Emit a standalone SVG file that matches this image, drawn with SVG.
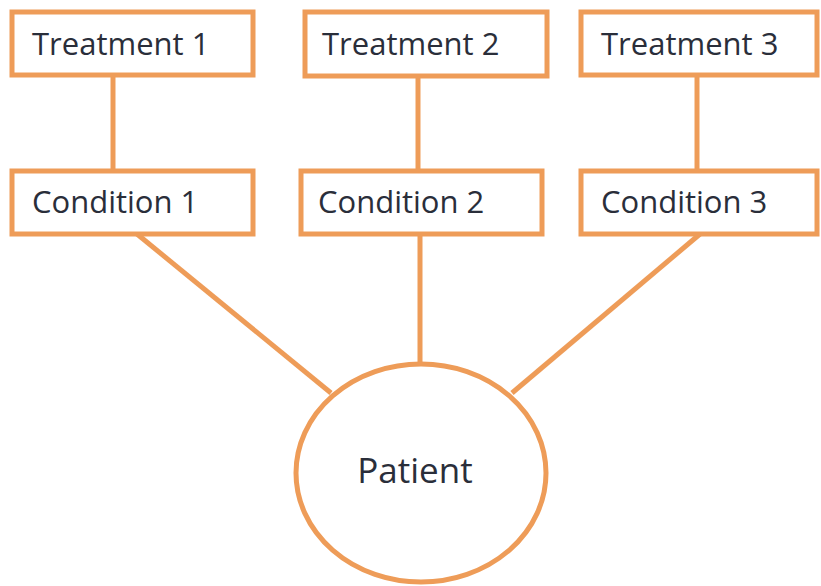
<svg xmlns="http://www.w3.org/2000/svg" width="821" height="586" viewBox="0 0 821 586">
<style>
.box{fill:#fff;stroke:#EE9C58;stroke-width:5}
.ln{stroke:#EE9C58;stroke-width:5;fill:none}
.t{font-family:"Open Sans","Liberation Sans",sans-serif;font-size:31px;fill:#2a2e3a}
.p{font-family:"Open Sans","Liberation Sans",sans-serif;font-size:35px;fill:#2a2e3a}
</style>
<rect width="821" height="586" fill="#fff"/>
<g id="connectors">
<line class="ln" x1="113" y1="76" x2="113" y2="170"/>
<line class="ln" x1="418" y1="77" x2="418" y2="170"/>
<line class="ln" x1="697" y1="76" x2="697" y2="170"/>
<line class="ln" x1="137" y1="234" x2="331" y2="393"/>
<line class="ln" x1="420" y1="234" x2="420" y2="363"/>
<line class="ln" x1="700" y1="234" x2="512" y2="393"/>
</g>
<g id="treatment1"><rect class="box" x="12" y="12" width="241" height="63"/><text class="t" x="32" y="55">Treatment 1</text></g>
<g id="treatment2"><rect class="box" x="305" y="12" width="242" height="64"/><text class="t" x="322" y="55">Treatment 2</text></g>
<g id="treatment3"><rect class="box" x="581" y="12" width="236" height="63"/><text class="t" x="601" y="55">Treatment 3</text></g>
<g id="condition1"><rect class="box" x="12" y="171" width="241" height="63"/><text class="t" x="32" y="213">Condition 1</text></g>
<g id="condition2"><rect class="box" x="301" y="171" width="241" height="63"/><text class="t" x="318" y="213">Condition 2</text></g>
<g id="condition3"><rect class="box" x="581" y="171" width="236" height="63"/><text class="t" x="601" y="213">Condition 3</text></g>
<g id="patient"><ellipse class="box" cx="421" cy="473" rx="125" ry="109"/><text class="p" x="415" y="483" text-anchor="middle">Patient</text></g>
</svg>
